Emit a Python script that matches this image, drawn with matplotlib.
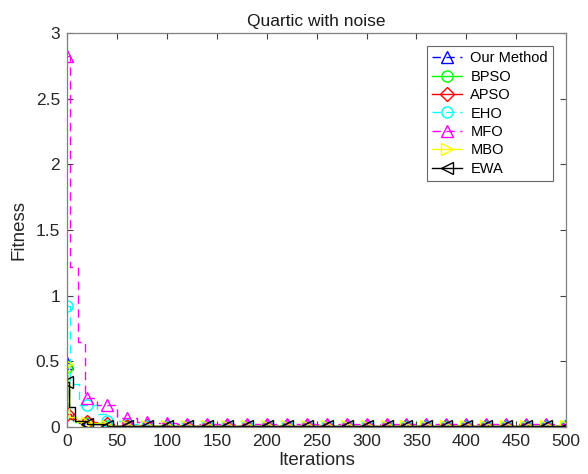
import numpy as np
import matplotlib
matplotlib.use('Agg')
import matplotlib.pyplot as plt
from matplotlib.lines import Line2D

plt.rcParams['font.family'] = ['Liberation Sans', 'DejaVu Sans']

# step breakpoints (iteration, best fitness)
names = ['Our Method', 'BPSO', 'APSO', 'EHO', 'MFO', 'MBO', 'EWA']
ours_it = [0, 2, 6, 12, 20, 35, 50, 80, 500]
ours_val = [0.49, 0.12, 0.05, 0.03, 0.02, 0.01, 0.006, 0.004, 0.004]
bpso_it = [0, 2, 8, 20, 40, 60, 500]
bpso_val = [0.46, 0.06, 0.04, 0.03, 0.01, 0.006, 0.005]
apso_it = [0, 4, 10, 20, 30, 45, 500]
apso_val = [0.10, 0.06, 0.05, 0.04, 0.02, 0.006, 0.004]
eho_it = [0, 3, 12, 30, 40, 55, 80, 500]
eho_val = [0.92, 0.33, 0.17, 0.10, 0.05, 0.02, 0.01, 0.008]
mfo_it = [0, 3, 11, 18, 30, 50, 70, 90, 110, 130, 500]
mfo_val = [2.83, 1.22, 0.65, 0.22, 0.17, 0.07, 0.04, 0.03, 0.025, 0.02, 0.015]
mbo_it = [0, 2, 10, 20, 40, 500]
mbo_val = [0.48, 0.08, 0.04, 0.03, 0.01, 0.005]
ewa_it = [0, 2, 8, 20, 40, 500]
ewa_val = [0.34, 0.15, 0.05, 0.02, 0.008, 0.004]

marker_iters = np.arange(0, 501, 20)

dash = (0, (6, 4))
series = [
    (ours_it, ours_val, '#0000ff', dash, '^'),
    (bpso_it, bpso_val, '#00ff00', '-', 'o'),
    (apso_it, apso_val, '#ff0000', '-', 'D'),
    (eho_it, eho_val, '#00ffff', dash, 'o'),
    (mfo_it, mfo_val, '#ff00ff', dash, '^'),
    (mbo_it, mbo_val, '#ffff00', '-', '>'),
    (ewa_it, ewa_val, '#000000', '-', '<'),
]

fig = plt.figure(figsize=(5.88, 4.74), dpi=100)
ax = fig.add_axes([0.114, 0.099, 0.849, 0.831])

handles = []
for (it, val, col, ls, mk), name in zip(series, names):
    it = np.array(it)
    val = np.array(val)
    ax.plot(it, val, color=col, ls=ls, lw=1.0, drawstyle='steps-post')
    # value of the step curve at each marker position
    idx = np.searchsorted(it, marker_iters, side='right') - 1
    ms = 7 if mk == 'D' else 8
    ax.plot(marker_iters, val[idx], ls='none', marker=mk, color=col,
            mfc='none', ms=ms, mew=1.0)
    handles.append(Line2D([], [], color=col, ls=ls, lw=1.0, marker=mk,
                          mfc='none', ms=ms, mew=1.0, label=name))

ax.set_xlim(0, 500)
ax.set_ylim(0, 3)
ax.set_xticks(np.arange(0, 501, 50))
ax.set_yticks([0, 0.5, 1, 1.5, 2, 2.5, 3])
ax.set_yticklabels(['0', '0.5', '1', '1.5', '2', '2.5', '3'])
ax.tick_params(direction='in', top=True, right=True, labelsize=12.5,
               length=4, color='#444444', colors='#262626', pad=5)
for sp in ax.spines.values():
    sp.set_color('#808080')
    sp.set_linewidth(0.9)

ax.set_title('Quartic with noise', fontsize=12.5, color='#1a1a1a', pad=5)
ax.set_xlabel('Iterations', fontsize=13.5, color='#262626', labelpad=2)
ax.set_ylabel('Fitness', fontsize=13.5, color='#262626', labelpad=6)

leg = ax.legend(handles=handles, loc='upper right', fontsize=10.5,
                frameon=True, fancybox=False, edgecolor='#404040',
                borderaxespad=0.9, handlelength=2.0, labelspacing=0.3,
                borderpad=0.35, handletextpad=0.6)
leg.get_frame().set_linewidth(0.8)

fig.savefig('out.png', dpi=100)
